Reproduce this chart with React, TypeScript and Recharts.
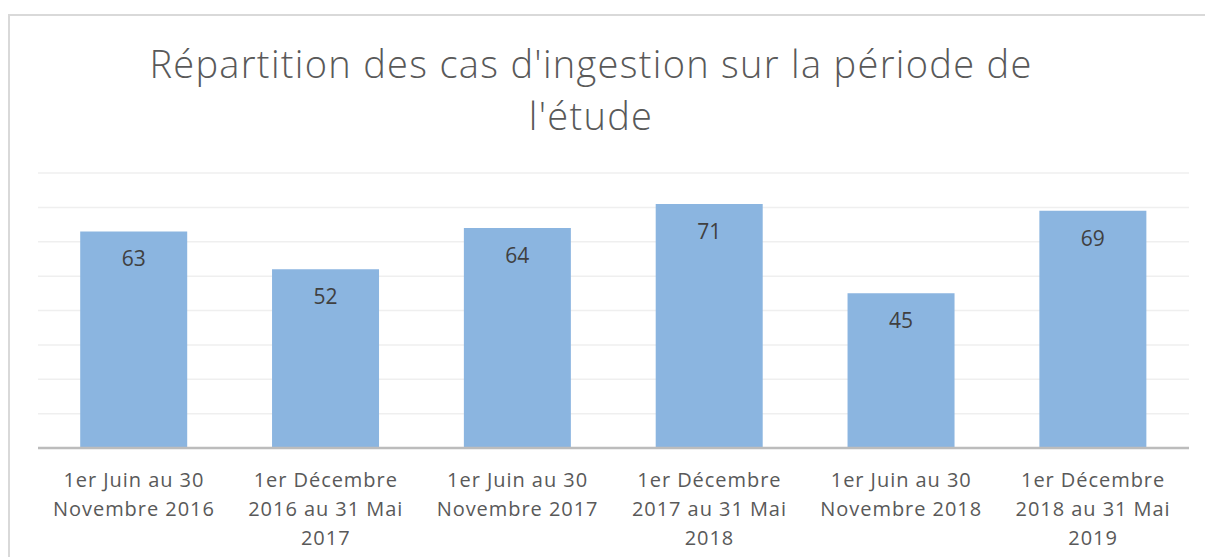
import React from "react";
import { BarChart, Bar, XAxis, YAxis, CartesianGrid, LabelList } from "recharts";

const periods = [
  "1er Juin au 30 Novembre 2016",
  "1er Décembre 2016 au 31 Mai 2017",
  "1er Juin au 30 Novembre 2017",
  "1er Décembre 2017 au 31 Mai 2018",
  "1er Juin au 30 Novembre 2018",
  "1er Décembre 2018 au 31 Mai 2019",
];
const tickLines = [
  ["1er Juin au 30", "Novembre 2016"],
  ["1er Décembre", "2016 au 31 Mai", "2017"],
  ["1er Juin au 30", "Novembre 2017"],
  ["1er Décembre", "2017 au 31 Mai", "2018"],
  ["1er Juin au 30", "Novembre 2018"],
  ["1er Décembre", "2018 au 31 Mai", "2019"],
];
const cases = [63, 52, 64, 71, 45, 69];
const yTicks = [0, 10, 20, 30, 40, 50, 60, 70, 80];
const titleLines = ["Répartition des cas d'ingestion sur la période de", "l'étude"];

const data = periods.map((p, i) => ({ period: p, cases: cases[i], idx: i }));

const FONT = "'Open Sans', 'Noto Sans', sans-serif";

const Tick = (props: any) => {
  const { x, y, index } = props;
  const lines = tickLines[index] || [];
  return (
    <g>
      {lines.map((l, k) => (
        <text
          key={k}
          x={x}
          y={y + 31 + k * 29}
          textAnchor="middle"
          fill="#595959"
          fontSize={20}
          fontFamily={FONT}
          letterSpacing={0.95}
        >
          {l}
        </text>
      ))}
    </g>
  );
};

const ValueLabel = (props: any) => {
  const { x, y, width, value } = props;
  return (
    <text
      x={x + width / 2}
      y={y + 35}
      textAnchor="middle"
      fill="#404040"
      fontSize={21}
      fontFamily={FONT}
    >
      {value}
    </text>
  );
};

export default function App() {
  return (
    <div style={{ position: "absolute", left: 0, top: 0, width: 1205, height: 557, overflow: "hidden", background: "#fff" }}>
      <div
        style={{
          position: "absolute",
          left: 8,
          top: 14,
          width: 1230,
          height: 620,
          border: "2px solid #d9d9d9",
          boxSizing: "border-box",
        }}
      />
      <svg width={1205} height={140} style={{ position: "absolute", left: 0, top: 0 }}>
        {titleLines.map((t, i) => (
          <text
            key={i}
            x={591}
            y={78 + i * 52}
            textAnchor="middle"
            fill="#595959"
            fontSize={38}
            fontWeight={300}
            fontFamily={FONT}
            letterSpacing={1.3}
          >
            {t}
          </text>
        ))}
      </svg>
      <div style={{ position: "absolute", left: 0, top: 0 }}>
        <BarChart
          width={1205}
          height={557}
          data={data}
          margin={{ top: 173, right: 16, bottom: 9, left: 38 }}
          barCategoryGap="22%"
        >
          <CartesianGrid vertical={false} stroke="#efefef" strokeWidth={1.5} />
          <YAxis hide domain={[0, 80]} ticks={yTicks} interval={0} width={0} />
          <XAxis
            dataKey="period"
            height={100}
            tickLine={false}
            axisLine={{ stroke: "#bcbcbc", strokeWidth: 2.5 }}
            tick={<Tick />}
            interval={0}
          />
          <Bar dataKey="cases" fill="#8BB5E0" isAnimationActive={false}>
            <LabelList dataKey="cases" content={<ValueLabel />} />
          </Bar>
        </BarChart>
      </div>
    </div>
  );
}
